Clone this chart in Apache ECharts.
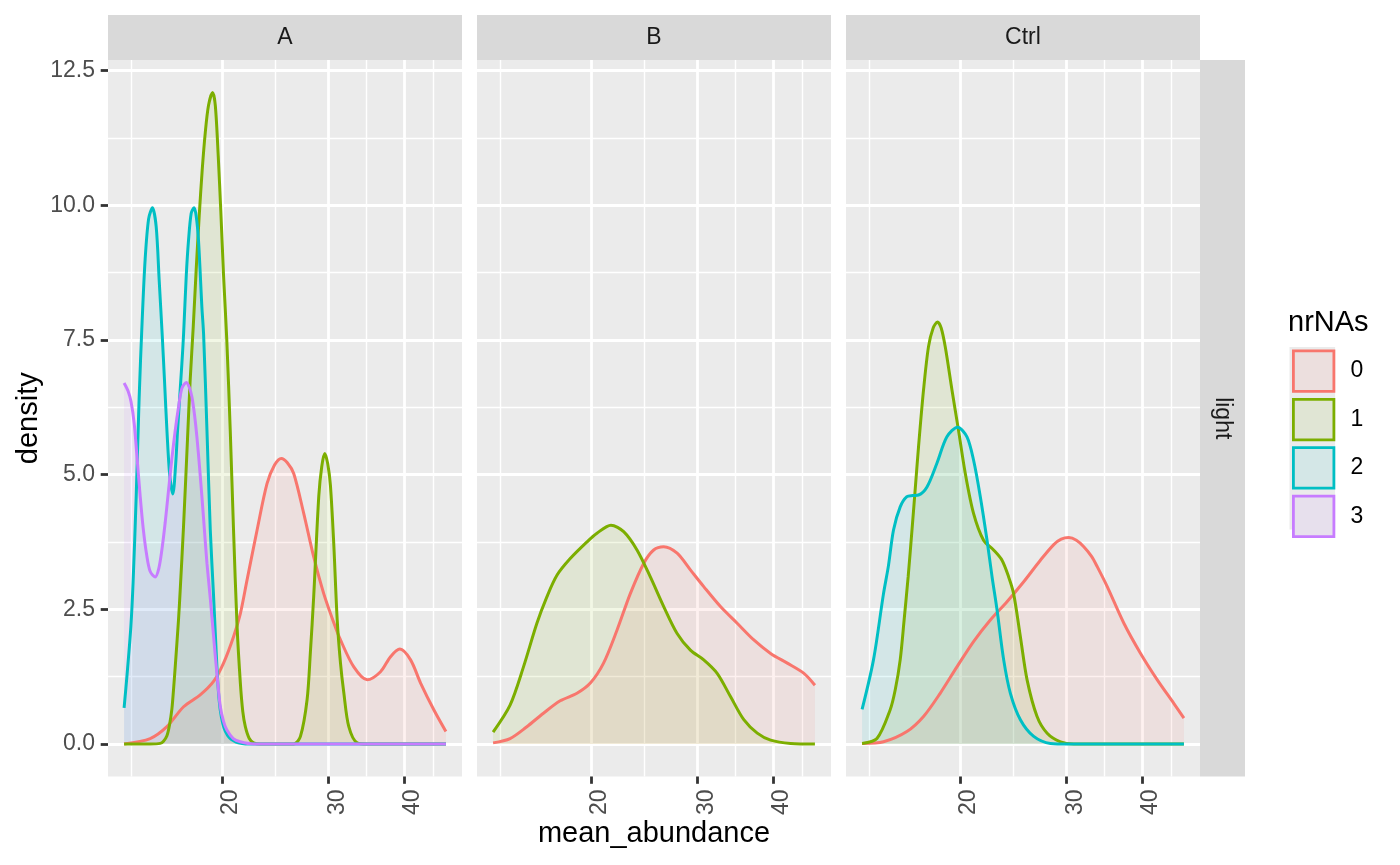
<!DOCTYPE html>
<html><head><meta charset="utf-8">
<script src="https://cdn.jsdelivr.net/npm/echarts@6/dist/echarts.min.js"></script>
<style>html,body{margin:0;padding:0;background:#fff}#c{width:1400px;height:865px}</style>
</head><body><div id="c"></div>
<script>
// ---------- chart content ----------
const panels = ['A', 'B', 'Ctrl'];
const groups = ['0', '1', '2', '3'];
const groupColors = ['#F8766D', '#7CAE00', '#00BFC4', '#C77CFF'];
const xBreaks = [10, 20, 30, 40, 50];          // log10-scaled axis breaks
const yBreaks = [0, 2.5, 5, 7.5, 10, 12.5];
const rowStrip = 'light';
const xTitle = 'mean_abundance';
const yTitle = 'density';
const legendTitle = 'nrNAs';

// ---------- data: [mean_abundance, density] ----------
// Panel A
const A_0 = [[13.78,0.00],[15.22,0.10],[16.22,0.32],[17.28,0.69],[18.41,0.91],[19.37,1.16],[20.12,1.50],[20.90,1.99],[21.45,2.42],[22.00,3.04],[22.86,3.97],[23.74,4.83],[24.44,5.18],[25.07,5.30],[25.65,5.22],[26.28,5.02],[27.30,4.28],[28.36,3.47],[29.46,2.79],[30.61,2.25],[31.40,1.93],[33.03,1.43],[34.76,1.19],[36.57,1.34],[37.99,1.62],[39.36,1.76],[41.00,1.56],[42.59,1.13],[44.81,0.63],[46.90,0.23]];
const A_1 = [[13.78,0.00],[15.22,0.00],[15.81,0.01],[16.01,0.05],[16.22,0.15],[16.38,0.35],[16.53,0.65],[16.63,1.00],[16.74,1.43],[16.95,2.30],[17.06,2.85],[17.28,4.05],[17.54,5.65],[17.72,6.75],[17.93,7.75],[18.13,8.80],[18.34,9.80],[18.55,10.65],[18.77,11.35],[19.00,11.85],[19.30,12.09],[19.50,11.85],[19.72,10.90],[19.91,9.90],[20.12,8.70],[20.37,7.50],[20.64,5.82],[20.90,3.97],[21.18,2.20],[21.45,1.13],[21.65,0.60],[21.86,0.32],[22.19,0.10],[22.56,0.02],[23.14,0.00],[26.28,0.00],[26.96,0.14],[27.65,0.82],[28.00,1.70],[28.36,2.75],[28.91,4.60],[29.24,5.15],[29.57,5.39],[29.91,5.20],[30.22,4.80],[30.61,3.70],[31.01,2.30],[31.40,1.50],[31.80,0.95],[32.41,0.32],[33.46,0.02],[34.76,0.00],[46.90,0.00]];
const A_2 = [[13.78,0.67],[13.94,1.30],[14.14,2.18],[14.26,3.00],[14.43,4.60],[14.59,6.40],[14.76,7.85],[14.93,9.00],[15.13,9.75],[15.35,9.95],[15.57,9.60],[15.75,8.60],[15.93,7.60],[16.07,6.75],[16.22,5.82],[16.39,5.00],[16.59,4.64],[16.77,5.20],[16.89,5.82],[17.17,7.06],[17.28,7.60],[17.46,8.70],[17.61,9.35],[17.79,9.85],[17.98,9.95],[18.13,9.80],[18.29,9.35],[18.53,8.10],[18.65,7.60],[18.89,5.82],[19.13,3.97],[19.37,2.75],[19.50,2.05],[19.62,1.43],[19.74,0.95],[19.87,0.63],[20.06,0.38],[20.25,0.24],[20.56,0.12],[20.90,0.06],[21.28,0.02],[21.86,0.00],[46.90,0.00]];
const A_3 = [[13.78,6.70],[13.99,6.55],[14.15,6.35],[14.32,5.95],[14.48,5.30],[14.65,4.60],[14.82,4.00],[15.02,3.50],[15.22,3.20],[15.51,3.10],[15.72,3.25],[15.91,3.60],[16.11,4.10],[16.32,4.71],[16.53,5.30],[16.74,5.82],[16.95,6.25],[17.17,6.60],[17.46,6.71],[17.66,6.62],[17.84,6.44],[18.02,6.10],[18.18,5.70],[18.36,5.15],[18.53,4.59],[18.70,4.00],[18.89,3.35],[19.13,2.70],[19.37,2.00],[19.62,1.30],[19.87,0.70],[20.12,0.42],[20.38,0.26],[20.88,0.10],[21.45,0.04],[22.56,0.00],[46.90,0.00]];
// Panel B
const B_0 = [[13.78,0.02],[14.70,0.10],[15.67,0.32],[16.69,0.57],[17.79,0.80],[18.96,0.94],[19.95,1.13],[20.98,1.50],[22.08,2.11],[23.23,2.79],[24.44,3.35],[25.39,3.60],[26.38,3.66],[27.76,3.54],[29.20,3.23],[30.72,2.92],[32.74,2.55],[34.89,2.24],[37.17,1.93],[39.62,1.68],[42.22,1.50],[44.98,1.31],[46.90,1.09]];
const B_1 = [[13.78,0.22],[14.70,0.72],[15.47,1.43],[16.28,2.24],[16.91,2.73],[17.57,3.13],[18.48,3.44],[19.70,3.75],[20.46,3.91],[21.58,4.06],[22.65,3.94],[23.83,3.60],[25.07,3.10],[26.38,2.55],[27.76,2.05],[29.20,1.74],[30.72,1.56],[32.33,1.31],[34.01,0.88],[35.78,0.45],[37.66,0.20],[39.62,0.07],[42.76,0.01],[46.90,0.00]];
// Panel Ctrl
const C_0 = [[13.78,0.01],[14.95,0.04],[16.34,0.23],[17.41,0.51],[18.55,0.94],[19.77,1.43],[21.06,1.90],[22.45,2.30],[23.92,2.64],[25.49,3.01],[27.16,3.41],[28.58,3.70],[29.40,3.80],[30.26,3.83],[31.15,3.78],[32.04,3.66],[33.00,3.48],[33.72,3.29],[35.03,2.92],[37.32,2.24],[39.77,1.68],[42.38,1.19],[45.15,0.75],[46.90,0.48]];
const C_1 = [[13.78,0.01],[14.58,0.10],[15.33,0.63],[15.63,1.00],[15.93,1.56],[16.17,2.30],[16.42,3.10],[16.67,4.00],[16.90,4.85],[17.08,5.51],[17.41,6.57],[17.74,7.37],[18.06,7.72],[18.36,7.83],[18.62,7.72],[18.91,7.37],[19.40,6.57],[19.89,5.82],[20.41,5.02],[21.06,4.28],[21.88,3.78],[22.73,3.60],[23.47,3.41],[24.07,3.10],[24.53,2.79],[25.17,1.99],[25.82,1.19],[26.82,0.51],[27.87,0.20],[29.32,0.04],[30.84,0.00],[46.90,0.00]];
const C_2 = [[13.78,0.64],[14.39,1.56],[14.95,2.79],[15.23,3.30],[15.53,3.97],[15.93,4.40],[16.34,4.59],[16.71,4.61],[17.08,4.62],[17.64,4.77],[18.32,5.21],[19.03,5.70],[19.82,5.88],[20.54,5.70],[21.06,5.27],[21.61,4.59],[22.17,3.78],[22.60,3.10],[23.03,2.49],[23.62,1.56],[24.23,0.94],[25.17,0.45],[26.48,0.14],[28.22,0.01],[30.22,0.00],[46.90,0.00]];

const panelData = [
  { '0': A_0, '1': A_1, '2': A_2, '3': A_3 },
  { '0': B_0, '1': B_1 },
  { '0': C_0, '1': C_1, '2': C_2 }
];

// ---------- layout / style ----------
const FONT = "'Liberation Sans', Arial, Helvetica, sans-serif";
const gridLeft = [108, 477, 846], gridTop = 60, gridW = 354, gridH = 716.5, stripH = 45;
const TXT = 23, TITLE = 29;

// scale ranges (ggplot-style 5% expansion)
let allX = [], allY = [];
panelData.forEach(p => Object.values(p).forEach(arr => arr.forEach(d => { allX.push(Math.log10(d[0])); allY.push(d[1]); })));
const lx0 = Math.min(...allX), lx1 = Math.max(...allX);
const xMin = lx0 - 0.05 * (lx1 - lx0), xMax = lx1 + 0.05 * (lx1 - lx0);
const y0 = Math.min(...allY), y1 = Math.max(...allY);
const yMin = y0 - 0.05 * (y1 - y0), yMax = y1 + 0.05 * (y1 - y0);

const xMajor = xBreaks.map(v => Math.log10(v));
const xMinor = xMajor.slice(1).map((v, i) => (v + xMajor[i]) / 2);
const yMinor = yBreaks.slice(1).map((v, i) => (v + yBreaks[i]) / 2);

function blend(hex, a, bg) {
  const c = [1, 3, 5].map(i => parseInt(hex.substr(i, 2), 16));
  const r = c.map(v => Math.round(v * a + bg * (1 - a)));
  return `rgb(${r[0]},${r[1]},${r[2]})`;
}

const grids = [], xAxes = [], yAxes = [], series = [];
panels.forEach((p, i) => {
  grids.push({ left: gridLeft[i], top: gridTop, width: gridW, height: gridH, show: true, backgroundColor: '#EBEBEB', borderWidth: 0 });
  xAxes.push({
    type: 'value', gridIndex: i, min: xMin, max: xMax, position: 'bottom',
    axisLine: { show: false, onZero: false },
    axisTick: { show: true, length: 7.3, lineStyle: { color: '#333333', width: 2.8 }, customValues: xMajor },
    axisLabel: { show: true, customValues: xMajor, rotate: 90, margin: 13, fontSize: TXT, color: '#4D4D4D', fontFamily: FONT,
      verticalAlign: 'top', lineHeight: 18, formatter: v => String(Math.round(Math.pow(10, v))) },
    splitLine: { show: true, lineStyle: { color: '#FFFFFF', width: 2.8 } }
  });
  xAxes.push({
    type: 'value', gridIndex: i, min: xMin, max: xMax, position: 'top',
    axisLine: { show: false, onZero: false }, axisTick: { show: false, customValues: xMinor }, axisLabel: { show: false },
    splitLine: { show: true, lineStyle: { color: '#FFFFFF', width: 1.4 } }
  });
  yAxes.push({
    type: 'value', gridIndex: i, min: yMin, max: yMax, position: 'left',
    axisLine: { show: false, onZero: false },
    axisTick: { show: i === 0, length: 7.3, lineStyle: { color: '#333333', width: 2.8 }, customValues: yBreaks },
    axisLabel: { show: i === 0, customValues: yBreaks, margin: 13, fontSize: TXT, color: '#4D4D4D', fontFamily: FONT, formatter: v => v.toFixed(1) },
    splitLine: { show: true, lineStyle: { color: '#FFFFFF', width: 2.8 } }
  });
  yAxes.push({
    type: 'value', gridIndex: i, min: yMin, max: yMax, position: 'right',
    axisLine: { show: false, onZero: false }, axisTick: { show: false, customValues: yMinor }, axisLabel: { show: false },
    splitLine: { show: true, lineStyle: { color: '#FFFFFF', width: 1.4 } }
  });
  groups.forEach((g, k) => {
    const arr = panelData[i][g];
    if (!arr) return;
    series.push({
      type: 'line', name: g, xAxisIndex: 2 * i, yAxisIndex: 2 * i,
      data: arr.map(d => [Math.log10(d[0]), d[1]]),
      smooth: 0.3, symbol: 'none', silent: true,
      lineStyle: { color: groupColors[k], width: 3 },
      itemStyle: { color: groupColors[k] },
      areaStyle: { color: groupColors[k], opacity: 0.1, origin: 'auto' }
    });
  });
});

const graphic = [];
panels.forEach((p, i) => {
  graphic.push({ type: 'rect', silent: true, shape: { x: gridLeft[i], y: gridTop - stripH, width: gridW, height: stripH }, style: { fill: '#D9D9D9' } });
  graphic.push({ type: 'text', silent: true, x: gridLeft[i] + gridW / 2, y: gridTop - stripH / 2,
    style: { text: p, font: `${TXT}px ${FONT}`, fill: '#1A1A1A', align: 'center', verticalAlign: 'middle' } });
});
graphic.push({ type: 'rect', silent: true, shape: { x: 1200, y: gridTop, width: 45, height: gridH }, style: { fill: '#D9D9D9' } });
graphic.push({ type: 'text', silent: true, x: 1222.5, y: gridTop + gridH / 2, rotation: -Math.PI / 2,
  style: { text: rowStrip, font: `${TXT}px ${FONT}`, fill: '#1A1A1A', align: 'center', verticalAlign: 'middle' } });
graphic.push({ type: 'text', silent: true, x: 654, y: 834,
  style: { text: xTitle, font: `${TITLE}px ${FONT}`, fill: '#000000', align: 'center', verticalAlign: 'middle' } });
graphic.push({ type: 'text', silent: true, x: 29, y: gridTop + gridH / 2, rotation: Math.PI / 2,
  style: { text: yTitle, font: `${TITLE}px ${FONT}`, fill: '#000000', align: 'center', verticalAlign: 'middle' } });
graphic.push({ type: 'rect', silent: true, z: -1, shape: { x: 1289.5, y: 347, width: 45.6, height: 45.6 * groups.length }, style: { fill: '#EBEBEB' } });
graphic.push({ type: 'text', silent: true, x: 1288, y: 323,
  style: { text: legendTitle, font: `${TITLE}px ${FONT}`, fill: '#000000', align: 'left', verticalAlign: 'middle' } });

const chart = echarts.init(document.getElementById('c'), null, { renderer: 'canvas' });
chart.setOption({
  animation: false,
  backgroundColor: '#FFFFFF',
  textStyle: { fontFamily: FONT },
  grid: grids, xAxis: xAxes, yAxis: yAxes, series: series,
  legend: {
    orient: 'vertical', left: 1292, top: 349.5, padding: 0,
    itemWidth: 40.5, itemHeight: 40.5, itemGap: 5.1, selectedMode: false,
    data: groups.map((g, k) => ({ name: g, icon: 'rect',
      itemStyle: { color: blend(groupColors[k], 0.1, 235), borderColor: groupColors[k], borderWidth: 2.8, opacity: 1 } })),
    textStyle: { fontSize: TXT, color: '#000000', fontFamily: FONT, padding: [0, 0, 0, 11.5] }
  },
  graphic: graphic
});
</script></body></html>
